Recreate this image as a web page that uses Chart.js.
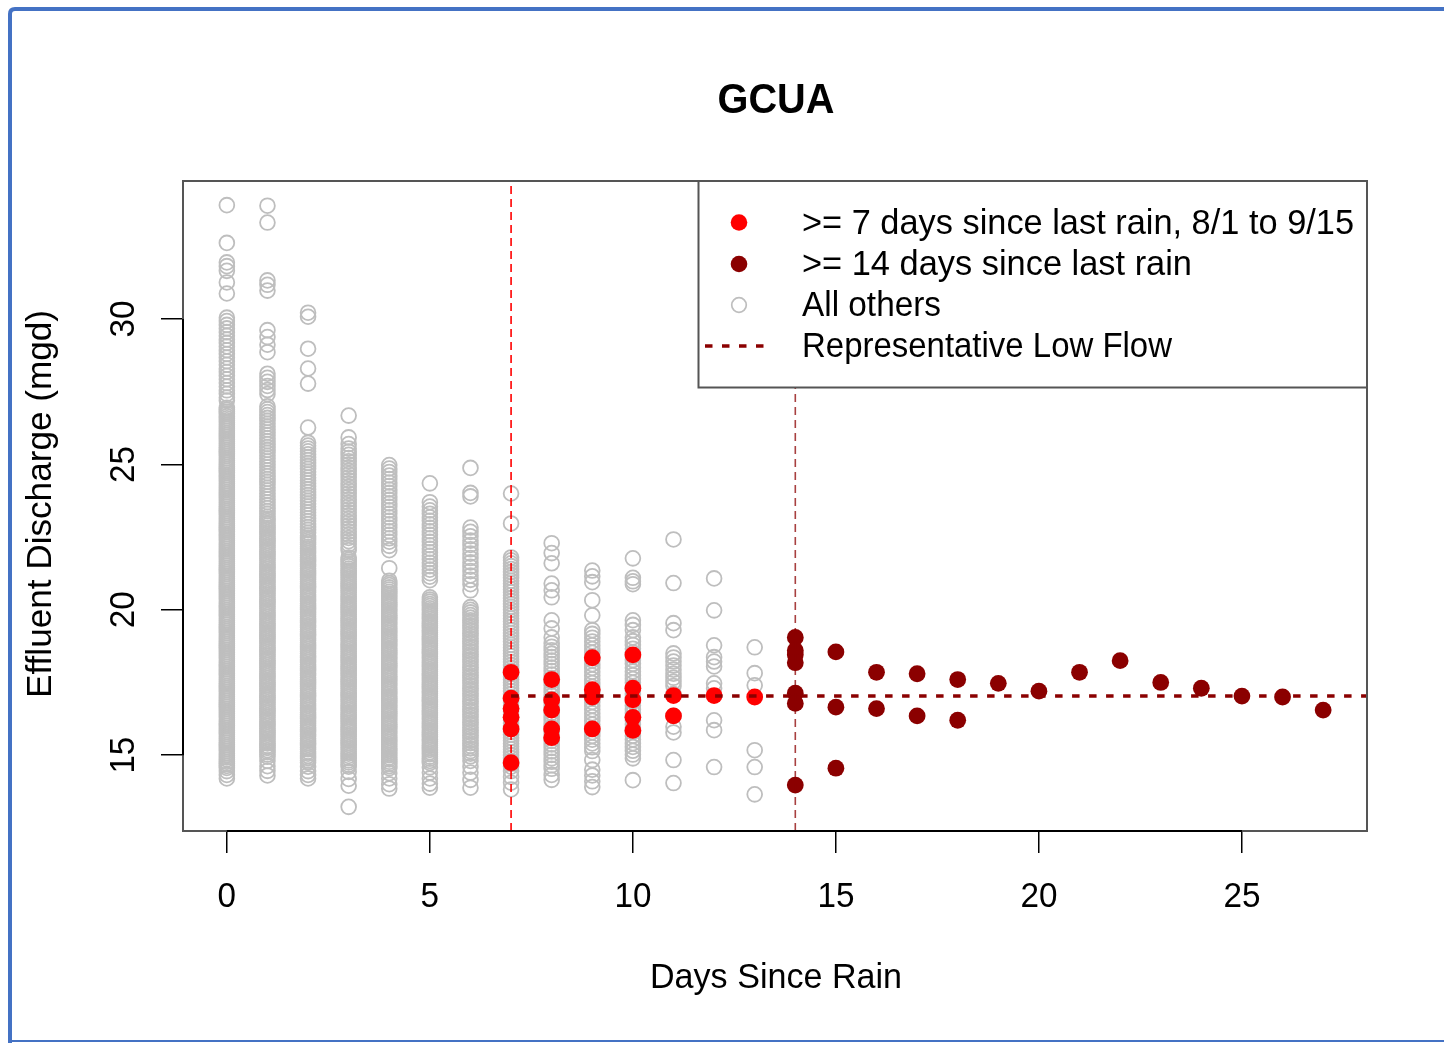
<!DOCTYPE html>
<html>
<head>
<meta charset="utf-8">
<title>GCUA</title>
<script src="https://cdn.jsdelivr.net/npm/chart.js@4.4.1/dist/chart.umd.min.js"></script>
<style>
  html, body { margin: 0; padding: 0; background: #fff; }
  canvas { display: block; }
</style>
</head>
<body>
<canvas id="myChart" width="1444" height="1043"></canvas>
<script>
// ---- data (mgd by days since rain) ----
const others0 = [33.92, 32.62, 31.95, 31.82, 31.66, 31.26, 30.88,
  30.05, 29.93, 29.8, 29.68, 29.55, 29.43, 29.3, 29.18, 29.06, 28.93, 28.8, 28.68, 28.55, 28.43, 28.3, 28.18, 28.05, 27.93, 27.8, 27.68, 27.55, 27.43, 27.3, 27.2,
  26.95, 26.88, 26.81, 26.74, 26.66, 26.59, 26.52, 26.45, 26.37, 26.3, 26.23, 26.16, 26.08, 26.01, 25.94, 25.87, 25.79, 25.72, 25.65, 25.58, 25.5, 25.43, 25.36, 25.29, 25.21, 25.14, 25.07, 25.0,
  24.92, 24.85, 24.78, 24.71, 24.63, 24.56, 24.49, 24.42, 24.34, 24.27, 24.2, 24.13, 24.05, 23.98, 23.91, 23.84, 23.76, 23.69, 23.62, 23.55, 23.47, 23.4, 23.33, 23.26, 23.18, 23.11, 23.04, 22.97,
  22.89, 22.82, 22.75, 22.68, 22.6, 22.53, 22.46, 22.39, 22.31, 22.24, 22.17, 22.1, 22.02, 21.95, 21.88, 21.81, 21.73, 21.66, 21.59, 21.52, 21.44, 21.37, 21.3, 21.23, 21.15, 21.08, 21.01,
  20.94, 20.86, 20.79, 20.72, 20.65, 20.57, 20.5, 20.43, 20.36, 20.28, 20.21, 20.14, 20.07, 19.99, 19.92, 19.85, 19.78, 19.7, 19.63, 19.56, 19.49, 19.41, 19.34, 19.27, 19.2, 19.12, 19.05,
  18.98, 18.91, 18.83, 18.76, 18.69, 18.62, 18.54, 18.47, 18.4, 18.33, 18.25, 18.18, 18.11, 18.04, 17.96, 17.89, 17.82, 17.75, 17.67, 17.6, 17.53, 17.46, 17.38, 17.31, 17.24, 17.17, 17.09,
  17.02, 16.95, 16.88, 16.8, 16.73, 16.66, 16.59, 16.51, 16.44, 16.37, 16.3, 16.22, 16.15, 16.08, 16.01, 15.93, 15.86, 15.79, 15.72, 15.64, 15.57, 15.5, 15.43, 15.35, 15.28, 15.21, 15.14,
  15.06, 14.99, 14.92, 14.85, 14.77, 14.7, 14.63, 14.56, 14.45, 14.32, 14.2];
const others1 = [33.9, 33.32, 31.33, 31.18, 30.98, 29.62, 29.38, 29.12, 28.86, 28.12, 27.98, 27.84, 27.7, 27.56, 27.42,
  27.0, 26.9, 26.8, 26.7, 26.6, 26.5, 26.4, 26.3, 26.2, 26.1, 26.0, 25.9, 25.8, 25.7, 25.6, 25.5, 25.4, 25.3, 25.2, 25.1, 25.0, 24.9, 24.8, 24.7, 24.6, 24.5, 24.4, 24.3, 24.2, 24.1, 24.0, 23.9, 23.8, 23.7, 23.6, 23.5, 23.4, 23.3, 23.2,
  23.12, 23.05, 22.97, 22.9, 22.82, 22.75, 22.67, 22.6, 22.52, 22.45, 22.37, 22.3, 22.22, 22.15, 22.07, 22.0, 21.92, 21.85, 21.77, 21.7, 21.62, 21.55, 21.47, 21.4, 21.32, 21.25, 21.17, 21.1, 21.02,
  20.95, 20.87, 20.8, 20.72, 20.65, 20.57, 20.5, 20.42, 20.35, 20.27, 20.2, 20.12, 20.05, 19.97, 19.9, 19.82, 19.75, 19.67, 19.6, 19.52, 19.45, 19.37, 19.3, 19.22, 19.15, 19.07, 19.0,
  18.92, 18.85, 18.77, 18.7, 18.62, 18.55, 18.47, 18.4, 18.32, 18.25, 18.17, 18.1, 18.02, 17.95, 17.87, 17.8, 17.72, 17.65, 17.57, 17.5, 17.42, 17.35, 17.27, 17.2, 17.12, 17.05,
  16.97, 16.9, 16.82, 16.75, 16.67, 16.6, 16.52, 16.45, 16.37, 16.3, 16.22, 16.15, 16.07, 16.0, 15.92, 15.85, 15.77, 15.7, 15.62, 15.55, 15.47, 15.4, 15.32, 15.25, 15.17, 15.1, 15.02, 14.95,
  14.8, 14.62, 14.46, 14.3];
const others2 = [30.22, 30.08, 28.98, 28.3, 27.78, 26.27,
  25.75, 25.65, 25.55, 25.45, 25.35, 25.25, 25.15, 25.05, 24.95, 24.85, 24.75, 24.65, 24.55, 24.45, 24.35, 24.25, 24.15, 24.05, 23.95, 23.85, 23.75, 23.65, 23.55, 23.45, 23.35, 23.25, 23.15, 23.05, 22.95, 22.85, 22.75, 22.65, 22.55,
  22.47, 22.4, 22.32, 22.25, 22.17, 22.1, 22.02, 21.95, 21.87, 21.8, 21.72, 21.65, 21.57, 21.5, 21.42, 21.35, 21.27, 21.2, 21.12, 21.05, 20.97, 20.9, 20.82, 20.75, 20.67, 20.6, 20.52, 20.45, 20.37, 20.3, 20.22, 20.15, 20.07, 20.0,
  19.92, 19.85, 19.77, 19.7, 19.62, 19.55, 19.47, 19.4, 19.32, 19.25, 19.17, 19.1, 19.02, 18.95, 18.87, 18.8, 18.72, 18.65, 18.57, 18.5, 18.42, 18.35, 18.27, 18.2, 18.12, 18.05, 17.97, 17.9,
  17.82, 17.75, 17.67, 17.6, 17.52, 17.45, 17.37, 17.3, 17.22, 17.15, 17.07, 17.0, 16.92, 16.85, 16.77, 16.7, 16.62, 16.55, 16.47, 16.4, 16.32, 16.25, 16.17, 16.1, 16.02, 15.95, 15.87, 15.8,
  15.72, 15.65, 15.57, 15.5, 15.42, 15.35, 15.27, 15.2, 15.12, 15.05, 14.97, 14.9, 14.82, 14.75, 14.6, 14.45, 14.32, 14.2];
const others3 = [26.68, 25.93, 25.7,
  25.55, 25.44, 25.33, 25.22, 25.11, 25.0, 24.89, 24.78, 24.67, 24.56, 24.45, 24.34, 24.23, 24.12, 24.01, 23.9, 23.79, 23.68, 23.57, 23.46, 23.35, 23.24, 23.13, 23.02, 22.91, 22.8, 22.69, 22.58, 22.47, 22.36, 22.25, 22.14, 22.05,
  21.8, 21.72, 21.65, 21.57, 21.5, 21.42, 21.35, 21.27, 21.2, 21.12, 21.05, 20.97, 20.9, 20.82, 20.75, 20.67, 20.6, 20.52, 20.45, 20.37, 20.3, 20.22, 20.15, 20.07, 20.0,
  19.92, 19.85, 19.77, 19.7, 19.62, 19.55, 19.47, 19.4, 19.32, 19.25, 19.17, 19.1, 19.02, 18.95, 18.87, 18.8, 18.72, 18.65, 18.57, 18.5, 18.42, 18.35, 18.27, 18.2, 18.12, 18.05, 17.97, 17.9,
  17.82, 17.75, 17.67, 17.6, 17.52, 17.45, 17.37, 17.3, 17.22, 17.15, 17.07, 17.0, 16.92, 16.85, 16.77, 16.7, 16.62, 16.55, 16.47, 16.4, 16.32, 16.25, 16.17, 16.1, 16.02, 15.95, 15.87, 15.8,
  15.72, 15.65, 15.57, 15.5, 15.42, 15.35, 15.27, 15.2, 15.12, 15.05, 14.97, 14.9, 14.82, 14.75, 14.67, 14.6, 14.42, 14.18, 13.95, 13.22];
const others4 = [24.98, 24.86, 24.74, 24.62, 24.5, 24.38, 24.26, 24.14, 24.02, 23.9, 23.78, 23.66, 23.54, 23.42, 23.3, 23.18, 23.06, 22.94, 22.82, 22.7, 22.58, 22.46, 22.34, 22.2, 22.05, 21.43,
  21.0, 20.92, 20.85, 20.77, 20.7, 20.62, 20.55, 20.47, 20.4, 20.32, 20.25, 20.17, 20.1, 20.02, 19.95, 19.87, 19.8, 19.72, 19.65, 19.57, 19.5, 19.42, 19.35, 19.27, 19.2, 19.12, 19.05,
  18.97, 18.9, 18.82, 18.75, 18.67, 18.6, 18.52, 18.45, 18.37, 18.3, 18.22, 18.15, 18.07, 18.0, 17.92, 17.85, 17.77, 17.7, 17.62, 17.55, 17.47, 17.4, 17.32, 17.25, 17.17, 17.1, 17.02,
  16.95, 16.87, 16.8, 16.72, 16.65, 16.57, 16.5, 16.42, 16.35, 16.27, 16.2, 16.12, 16.05, 15.97, 15.9, 15.82, 15.75, 15.67, 15.6, 15.52, 15.45, 15.37, 15.3, 15.22, 15.15, 15.07, 15.0,
  14.92, 14.85, 14.77, 14.7, 14.62, 14.55, 14.38, 14.2, 14.0, 13.85];
const others5 = [24.35, 23.7, 23.55,
  23.42, 23.3, 23.18, 23.06, 22.94, 22.82, 22.7, 22.58, 22.46, 22.34, 22.22, 22.1, 21.98, 21.86, 21.74, 21.62, 21.5, 21.38, 21.26, 21.14, 21.02,
  20.43, 20.35, 20.28, 20.2, 20.13, 20.05, 19.98, 19.9, 19.83, 19.75, 19.68, 19.6, 19.53, 19.45, 19.38, 19.3, 19.23, 19.15, 19.08, 19.0, 18.93, 18.85, 18.78, 18.7, 18.63, 18.55, 18.48, 18.4,
  18.33, 18.25, 18.18, 18.1, 18.03, 17.95, 17.88, 17.8, 17.73, 17.65, 17.58, 17.5, 17.43, 17.35, 17.28, 17.2, 17.13, 17.05, 16.98, 16.9, 16.83, 16.75, 16.68, 16.6, 16.53, 16.45, 16.38,
  16.3, 16.23, 16.15, 16.08, 16.0, 15.93, 15.85, 15.78, 15.7, 15.63, 15.55, 15.48, 15.4, 15.33, 15.25, 15.18, 15.1, 15.03, 14.95, 14.88, 14.8, 14.73, 14.58, 14.4, 14.2, 14.02, 13.88];
const others6 = [24.88, 24.02, 23.9,
  22.83, 22.68, 22.53, 22.38, 22.23, 22.08, 21.93, 21.78, 21.63, 21.48, 21.33, 21.18, 21.03, 20.88, 20.67,
  20.09, 20.0, 19.91, 19.82, 19.73, 19.64, 19.55, 19.46, 19.37, 19.28, 19.19, 19.1, 19.01, 18.92, 18.83, 18.74, 18.65, 18.56, 18.47, 18.38, 18.29, 18.2, 18.11, 18.02,
  17.93, 17.84, 17.75, 17.66, 17.57, 17.48, 17.39, 17.3, 17.21, 17.12, 17.03, 16.94, 16.85, 16.76, 16.67, 16.58, 16.49, 16.4, 16.31, 16.22, 16.13, 16.04, 15.95, 15.86, 15.77, 15.68,
  15.59, 15.5, 15.41, 15.32, 15.23, 15.14, 15.05, 14.96, 14.8, 14.6, 14.4, 14.15, 13.88];
const others7 = [24.0, 22.97,
  21.8, 21.7, 21.6, 21.5, 21.4, 21.3, 21.2, 21.1, 21.0, 20.9, 20.8, 20.7, 20.6, 20.5, 20.4, 20.3, 20.2, 20.1, 20.0, 19.9, 19.8, 19.7, 19.6, 19.5, 19.4, 19.3, 19.2, 19.1, 19.0,
  18.9, 18.8, 18.7, 18.6, 18.5, 18.4, 18.3, 18.2, 18.1, 18.0, 17.9, 17.8, 17.7, 17.6, 17.5, 17.4, 17.3, 17.2, 17.1, 17.0, 16.9, 16.8, 16.7, 16.6, 16.5, 16.4, 16.3, 16.2, 16.1, 16.0,
  15.9, 15.8, 15.7, 15.6, 15.5, 15.4, 15.3, 15.2, 15.1, 15.0, 14.9, 14.8, 14.7, 14.6, 14.45, 14.25, 14.05, 13.82];
const others8 = [22.29, 21.95, 21.6, 20.9, 20.67, 20.43, 19.64, 19.36, 19.05,
  18.85, 18.73, 18.61, 18.49, 18.37, 18.25, 18.13, 18.01, 17.89, 17.77, 17.65, 17.53, 17.41, 17.29, 17.17, 17.05, 16.93, 16.81, 16.69, 16.57, 16.45, 16.33, 16.21, 16.09,
  15.97, 15.85, 15.73, 15.61, 15.49, 15.37, 15.25, 15.13, 15.01, 14.89, 14.77, 14.65, 14.53, 14.32, 14.15];
const others9 = [21.35, 21.15, 20.95, 20.33, 19.81,
  19.3, 19.17, 19.04, 18.91, 18.78, 18.65, 18.52, 18.39, 18.26, 18.13, 18.0, 17.87, 17.74, 17.61, 17.48, 17.35, 17.22, 17.09, 16.96, 16.83, 16.7, 16.57, 16.44, 16.31, 16.18,
  16.05, 15.92, 15.79, 15.66, 15.53, 15.4, 15.27, 15.14, 14.83, 14.5, 14.3, 14.1, 13.9];
const others10 = [21.77, 21.1, 20.98, 20.88, 19.64, 19.48, 19.3,
  19.05, 18.92, 18.79, 18.66, 18.53, 18.4, 18.27, 18.14, 18.01, 17.88, 17.75, 17.62, 17.49, 17.36, 17.23, 17.1, 16.97, 16.84, 16.71, 16.58, 16.45, 16.32, 16.19,
  16.06, 15.93, 15.8, 15.67, 15.54, 15.41, 15.28, 15.15, 15.02, 14.89, 14.14];
const others11 = [22.42, 20.92, 19.54, 19.3, 18.5, 18.36, 18.22, 18.08, 17.94, 17.8, 17.66, 17.52, 17.38, 17.1, 16.35, 15.98, 15.78, 14.83, 14.04];
const others12 = [21.08, 19.98, 18.78, 18.37, 18.22, 18.05, 17.47, 17.3, 16.2, 15.86, 14.59];
const others13 = [18.71, 17.82, 17.4, 15.17, 14.59, 13.65];

const otherColumns = [others0, others1, others2, others3, others4, others5, others6,
  others7, others8, others9, others10, others11, others12, others13];

// >= 7 days since last rain, 8/1 to 9/15
const dryDays   = [7, 7, 7, 7, 7, 7, 8, 8, 8, 8, 8, 9, 9, 9, 9, 10, 10, 10, 10, 10, 11, 11, 12, 13];
const dryValues = [17.85, 16.96, 16.6, 16.3, 15.9, 14.74, 17.6, 16.9, 16.55, 15.9, 15.6,
  18.35, 17.25, 17.0, 15.9, 18.45, 17.3, 16.9, 16.3, 15.85, 17.05, 16.35, 17.05, 17.0];

// >= 14 days since last rain
const longDryDays   = [14, 14, 14, 14, 14, 14, 14, 15, 15, 15, 16, 16, 17, 17, 18, 18, 19, 20, 21, 22, 23, 24, 25, 26, 27];
const longDryValues = [19.05, 18.6, 18.45, 18.18, 17.13, 16.78, 13.97, 18.55, 16.65, 14.55, 17.85, 16.6,
  17.8, 16.35, 17.6, 16.2, 17.47, 17.2, 17.85, 18.25, 17.5, 17.3, 17.03, 17.0, 16.55];

const lowFlow = 17.03;
const dryCutoff = 7;
const longDryCutoff = 14;

const xLimits = [-1.08, 28.08];
const yLimits = [12.39, 34.75];
const xTicks = [0, 5, 10, 15, 20, 25];
const yTicks = [15, 20, 25, 30];

const legendLabels = [">= 7 days since last rain, 8/1 to 9/15", ">= 14 days since last rain", "All others", "Representative Low Flow"];

// ---- build points ----
const otherPoints = [];
otherColumns.forEach((col, day) => {
  col.forEach((v) => otherPoints.push({ x: day, y: v }));
});
const dryPoints = dryDays.map((d, i) => ({ x: d, y: dryValues[i] }));
const longDryPoints = longDryDays.map((d, i) => ({ x: d, y: longDryValues[i] }));

const FONT = '"Liberation Sans", Arial, sans-serif';

// draws text, optionally squeezed to a target width
function drawText(c, str, x, y, o) {
  c.save();
  c.font = (o.bold ? "bold " : "") + o.size + "px " + FONT;
  c.fillStyle = "#000";
  c.textBaseline = "alphabetic";
  c.textAlign = o.align || "center";
  c.translate(x, y);
  if (o.rotate) c.rotate(o.rotate);
  let sx = o.scale || 1;
  if (o.width) sx = o.width / c.measureText(str).width;
  c.scale(sx, 1);
  c.fillText(str, 0, 0);
  c.restore();
  return sx;
}

const rStyle = {
  id: "rStyle",
  beforeDraw(chart) {
    const c = chart.ctx;
    c.save();
    c.fillStyle = "#fff";
    c.fillRect(0, 0, chart.width, chart.height);
    // blue frame of the screenshot
    c.strokeStyle = "#4472C4";
    c.lineWidth = 4;
    c.beginPath();
    c.moveTo(10, 1043);
    c.lineTo(10, 14);
    c.quadraticCurveTo(10, 9, 15, 9);
    c.lineTo(1444, 9);
    c.stroke();
    c.lineWidth = 2;
    c.beginPath();
    c.moveTo(10, 1041);
    c.lineTo(1444, 1041);
    c.stroke();
    c.restore();
  },
  afterDatasetsDraw(chart) {
    const c = chart.ctx;
    const a = chart.chartArea;
    const xs = chart.scales.x;
    const ys = chart.scales.y;
    c.save();
    // plot box
    c.strokeStyle = "#555";
    c.lineWidth = 2;
    c.strokeRect(a.left, a.top, a.right - a.left, a.bottom - a.top);
    // axis lines over the box (first to last tick)
    c.strokeStyle = "#000";
    c.beginPath();
    c.moveTo(xs.getPixelForValue(xTicks[0]), a.bottom);
    c.lineTo(xs.getPixelForValue(xTicks[xTicks.length - 1]), a.bottom);
    c.moveTo(a.left, ys.getPixelForValue(yTicks[0]));
    c.lineTo(a.left, ys.getPixelForValue(yTicks[yTicks.length - 1]));
    c.stroke();

    // legend, top right
    const lx = 698.5, ly = a.top, lw = a.right - lx, lh = 387.5 - a.top;
    c.fillStyle = "#fff";
    c.fillRect(lx, ly, lw, lh);
    c.strokeStyle = "#555";
    c.lineWidth = 2;
    c.strokeRect(lx, ly, lw, lh);
    const rows = [222.5, 264, 305, 346];
    const mx = 739;
    c.fillStyle = "#FF0000";
    c.beginPath(); c.arc(mx, rows[0], 8.3, 0, Math.PI * 2); c.fill();
    c.fillStyle = "#8B0000";
    c.beginPath(); c.arc(mx, rows[1], 8.3, 0, Math.PI * 2); c.fill();
    c.strokeStyle = "#BEBEBE";
    c.lineWidth = 1.7;
    c.beginPath(); c.arc(mx, rows[2], 7.3, 0, Math.PI * 2); c.stroke();
    c.strokeStyle = "#8B0000";
    c.lineWidth = 3.5;
    c.setLineDash([7.5, 9.5]);
    c.beginPath(); c.moveTo(705, rows[3]); c.lineTo(765, rows[3]); c.stroke();
    c.setLineDash([]);
    c.restore();
    const fitW = [552, 390, 139, 370];
    legendLabels.forEach((lab, i) => {
      drawText(c, lab, 802, rows[i] + 11, { size: 35, align: "left", width: fitW[i] });
    });
  },
  afterDraw(chart) {
    const c = chart.ctx;
    const a = chart.chartArea;
    const xs = chart.scales.x;
    const ys = chart.scales.y;
    const mid = (a.left + a.right) / 2;
    drawText(c, "GCUA", mid + 1, 113, { size: 43, bold: true, width: 117 });
    drawText(c, "Days Since Rain", mid + 1, 988, { size: 35, width: 252 });
    drawText(c, "Effluent Discharge (mgd)", 51, 504, { size: 35, rotate: -Math.PI / 2, width: 388 });
    xs.ticks.forEach((t) => {
      drawText(c, String(t.value), xs.getPixelForValue(t.value), 907, { size: 35, scale: 0.95 });
    });
    ys.ticks.forEach((t) => {
      drawText(c, String(t.value), 134, ys.getPixelForValue(t.value), { size: 35, rotate: -Math.PI / 2, scale: 0.95 });
    });
  },
};

const ctx = document.getElementById("myChart").getContext("2d");

window.myChart = new Chart(ctx, {
  type: "scatter",
  data: {
    datasets: [
      {
        label: legendLabels[2],
        data: otherPoints,
        pointRadius: 7.4,
        pointBorderWidth: 1.8,
        pointBorderColor: "#BEBEBE",
        pointBackgroundColor: "rgba(0,0,0,0)",
        order: 6,
      },
      {
        label: legendLabels[0],
        data: dryPoints,
        pointRadius: 8.4,
        pointBorderWidth: 0,
        pointBackgroundColor: "#FF0000",
        order: 5,
      },
      {
        label: legendLabels[1],
        data: longDryPoints,
        pointRadius: 8.4,
        pointBorderWidth: 0,
        pointBackgroundColor: "#8B0000",
        order: 4,
      },
      {
        label: "7 days",
        data: [{ x: dryCutoff, y: yLimits[0] }, { x: dryCutoff, y: yLimits[1] }],
        showLine: true,
        pointRadius: 0,
        borderColor: "#FF0000",
        borderWidth: 1.6,
        borderDash: [8, 5],
        order: 3,
      },
      {
        label: "14 days",
        data: [{ x: longDryCutoff, y: yLimits[0] }, { x: longDryCutoff, y: yLimits[1] }],
        showLine: true,
        pointRadius: 0,
        borderColor: "rgba(139,0,0,0.75)",
        borderWidth: 1.6,
        borderDash: [8, 5],
        order: 2,
      },
      {
        label: legendLabels[3],
        data: [{ x: dryCutoff, y: lowFlow }, { x: xLimits[1] + 2, y: lowFlow }],
        showLine: true,
        pointRadius: 0,
        borderColor: "#8B0000",
        borderWidth: 3.5,
        borderDash: [7.5, 9.5],
        order: 1,
      },
    ],
  },
  options: {
    responsive: false,
    animation: false,
    devicePixelRatio: 1,
    layout: { padding: { top: 181, right: 77, left: 0, bottom: 0 } },
    plugins: {
      legend: { display: false },
      title: { display: false },
      tooltip: { enabled: false },
    },
    scales: {
      x: {
        type: "linear",
        min: xLimits[0],
        max: xLimits[1],
        afterFit: (s) => { s.height = 212; },
        ticks: { display: false, stepSize: 5, includeBounds: false },
        grid: { drawOnChartArea: false, drawTicks: true, tickLength: 22, color: "#000", lineWidth: 1.5 },
        border: { display: false },
      },
      y: {
        type: "linear",
        min: yLimits[0],
        max: yLimits[1],
        afterFit: (s) => { s.width = 183; },
        ticks: { display: false, stepSize: 5, includeBounds: false },
        grid: { drawOnChartArea: false, drawTicks: true, tickLength: 22, color: "#000", lineWidth: 1.5 },
        border: { display: false },
      },
    },
  },
  plugins: [rStyle],
});
</script>
</body>
</html>
